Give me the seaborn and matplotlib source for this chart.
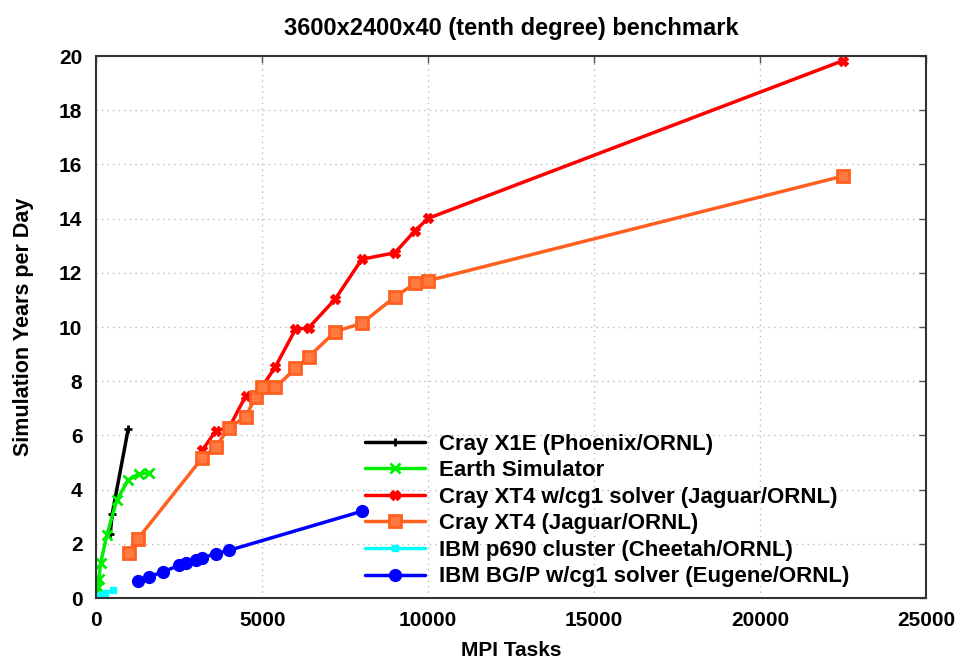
import matplotlib
matplotlib.use("Agg")
import matplotlib.pyplot as plt
import seaborn as sns
import pandas as pd

sns.set_theme(style="white")
plt.rcParams['font.family'] = ['Liberation Sans', 'DejaVu Sans']
plt.rcParams['font.weight'] = 'bold'
plt.rcParams['text.color'] = 'black'
plt.rcParams['axes.labelcolor'] = 'black'
plt.rcParams['xtick.labelcolor'] = 'black'
plt.rcParams['ytick.labelcolor'] = 'black'

# ---- data ----
x1e_tasks = [420, 480, 960]
x1e_sypd = [2.36, 3.10, 6.22]

es_tasks = [40, 60, 80, 130, 320, 620, 960, 1280, 1580]
es_sypd = [0.12, 0.40, 0.72, 1.28, 2.32, 3.62, 4.35, 4.58, 4.62]

xt4cg_tasks = [3200, 3600, 4000, 4500, 4800, 5000, 5400, 6000, 6400, 7200, 8000, 9000, 9600, 10000, 22500]
xt4cg_sypd = [5.46, 6.17, 6.28, 7.45, 7.42, 7.80, 8.54, 9.91, 9.97, 11.03, 12.50, 12.74, 13.55, 14.01, 19.83]

xt4_tasks = [1000, 1250, 3200, 3600, 4000, 4500, 4800, 5000, 5400, 6000, 6400, 7200, 8000, 9000, 9600, 10000, 22500]
xt4_sypd = [1.65, 2.18, 5.18, 5.57, 6.29, 6.68, 7.42, 7.77, 7.77, 8.47, 8.90, 9.83, 10.14, 11.11, 11.61, 11.71, 15.57]

p690_tasks = [32, 64, 128, 256, 500]
p690_sypd = [0.05, 0.09, 0.13, 0.17, 0.28]

bgp_tasks = [1250, 1600, 2000, 2500, 2700, 3000, 3200, 3600, 4000, 8000]
bgp_sypd = [0.63, 0.79, 0.96, 1.21, 1.31, 1.42, 1.48, 1.64, 1.76, 3.20]

series = [
    ("Cray X1E (Phoenix/ORNL)", x1e_tasks, x1e_sypd, "black", dict(marker="+", markersize=6, markeredgewidth=2)),
    ("Earth Simulator", es_tasks, es_sypd, "#00ee00", dict(marker="x", markersize=7, markeredgewidth=2)),
    ("Cray XT4 w/cg1 solver (Jaguar/ORNL)", xt4cg_tasks, xt4cg_sypd, "#ff0000", dict(marker="X", markersize=7, markeredgewidth=1)),
    ("Cray XT4 (Jaguar/ORNL)", xt4_tasks, xt4_sypd, "#ff6020", dict(marker="s", markersize=8, markeredgewidth=2, markerfacecolor="#ff7a40")),
    ("IBM p690 cluster (Cheetah/ORNL)", p690_tasks, p690_sypd, "#00ffff", dict(marker="s", markersize=5, markeredgewidth=1)),
    ("IBM BG/P w/cg1 solver (Eugene/ORNL)", bgp_tasks, bgp_sypd, "#0000ff", dict(marker="o", markersize=8.5, markeredgewidth=1)),
]

fig = plt.figure(figsize=(9.55, 6.63), dpi=100)
ax = fig.add_axes([0.1008, 0.098, 0.8688, 0.8175])

for label, xs, ys, col, mk in series:
    df = pd.DataFrame({"tasks": xs, "sypd": ys})
    sns.lineplot(data=df, x="tasks", y="sypd", ax=ax, color=col, label=label,
                 sort=False, estimator=None, linewidth=2.5, markeredgecolor=col, **mk)

ax.set_xlim(0, 25000)
ax.set_ylim(0, 20)
ax.set_xticks(range(0, 25001, 5000))
ax.set_yticks(range(0, 21, 2))
ax.grid(True, linestyle=(0, (1, 3)), color="#bbbbbb", linewidth=1)
for s in ax.spines.values():
    s.set_color("#333333")
    s.set_linewidth(1.5)
ax.tick_params(direction="in", top=True, right=True, length=5, width=1, color="#555555",
               labelsize=15, labelcolor="black")
ax.tick_params(axis="y", pad=10)
ax.tick_params(axis="x", pad=9)
for t in ax.get_xticklabels() + ax.get_yticklabels():
    t.set_fontweight("bold")

ax.set_xlabel("MPI Tasks", fontsize=15, fontweight="bold", labelpad=8, color="black")
ax.set_ylabel("Simulation Years per Day", fontsize=15.5, fontweight="bold", labelpad=18, color="black")
ax.set_title("3600x2400x40 (tenth degree) benchmark", fontsize=17, fontweight="bold", pad=15, color="black")

leg = ax.legend(loc="upper left", bbox_to_anchor=(0.3237, 0.3035), frameon=False,
                prop={"size": 16, "weight": "bold"}, handlelength=2.7,
                labelspacing=0.25, handletextpad=0.63, borderaxespad=0, borderpad=0)
for t in leg.get_texts():
    t.set_color("black")

fig.savefig("out.png", dpi=100)
